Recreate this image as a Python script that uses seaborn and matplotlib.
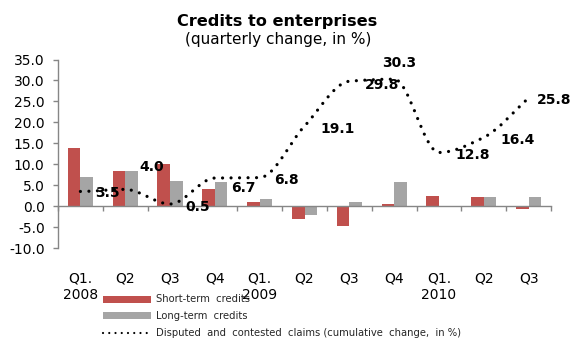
import numpy as np
import pandas as pd
import matplotlib
matplotlib.use("Agg")
import matplotlib.pyplot as plt
from matplotlib.path import Path
from matplotlib.patches import PathPatch, Patch
from matplotlib.lines import Line2D
import seaborn as sns

# ---- data -------------------------------------------------------------
quarters = ["2008Q1", "2008Q2", "2008Q3", "2008Q4",
            "2009Q1", "2009Q2", "2009Q3", "2009Q4",
            "2010Q1", "2010Q2", "2010Q3"]
tick_labels = ["Q1.\n2008", "Q2", "Q3", "Q4",
               "Q1.\n2009", "Q2", "Q3", "Q4",
               "Q1.\n2010", "Q2", "Q3"]
short_term = [13.8, 8.5, 10.1, 4.2, 1.1, -3.0, -4.7, 0.4, 2.4, 2.1, -0.7]
long_term = [7.0, 8.5, 6.1, 5.8, 1.7, -2.2, 1.0, 5.8, 0.1, 2.1, 2.1]
disputed = [3.5, 4.0, 0.5, 6.7, 6.8, 19.1, 29.8, 30.3, 12.8, 16.4, 25.8]

series_names = ["Short-term  credits", "Long-term  credits"]
line_name = "Disputed  and  contested  claims (cumulative  change,  in %)"

# label placement for the line values (pixel offsets from each point)
label_offsets = [(27, -2), (26, 22), (28, -3), (29, -10), (27, -2), (33, -3),
                 (33, -4), (5, 16), (34, -3), (34, -3), (26, -2)]

RED = "#C0504D"
GREY = "#A5A5A5"
AXIS = "#868686"

sns.set_theme(style="white")
plt.rcParams["font.family"] = ["DejaVu Sans"]

df = pd.DataFrame({
    "quarter": quarters * 2,
    "value": short_term + long_term,
    "series": [series_names[0]] * len(quarters) + [series_names[1]] * len(quarters),
})

fig = plt.figure(figsize=(5.71, 3.45), dpi=100)
ax = fig.add_axes([58 / 571, 1 - 248 / 345, (551 - 58) / 571, (248 - 59.5) / 345])

sns.barplot(data=df, x="quarter", y="value", hue="series", order=quarters,
            hue_order=series_names, palette=[RED, GREY], width=0.56, gap=0,
            saturation=1, errorbar=None, ax=ax, legend=False, linewidth=0)


def smooth_path(values):
    """Cubic Bezier path through the points, with monotone tangents."""
    y = np.asarray(values, dtype=float)
    n = len(y)
    x = np.arange(n, dtype=float)
    d = np.diff(y)
    m = np.zeros(n)
    for i in range(1, n - 1):
        if d[i - 1] * d[i] > 0:
            m[i] = 2.0 / (1.0 / d[i - 1] + 1.0 / d[i])
    m[0] = d[0] if d[0] * (d[1] if n > 2 else d[0]) > 0 else 0.0
    m[-1] = d[-1] if n > 2 and d[-1] * d[-2] > 0 else 0.0
    verts = [(x[0], y[0])]
    codes = [Path.MOVETO]
    for i in range(n - 1):
        verts += [(x[i] + 1 / 3, y[i] + m[i] / 3),
                  (x[i + 1] - 1 / 3, y[i + 1] - m[i + 1] / 3),
                  (x[i + 1], y[i + 1])]
        codes += [Path.CURVE4] * 3
    return Path(verts, codes)


curve = PathPatch(smooth_path(disputed), facecolor="none", edgecolor="black",
                  linewidth=2.3, linestyle=(0, (0.01, 2.65)), zorder=4)
curve.set_capstyle("round")
ax.add_patch(curve)

for x, v, (dx, dy) in zip(range(len(disputed)), disputed, label_offsets):
    ax.annotate(f"{v:.1f}", (x, v), xytext=(dx, dy), textcoords="offset pixels",
                ha="center", va="center", fontsize=10, fontweight="bold",
                color="black", zorder=5)

# axes styling
ax.set_xlim(-0.5, len(quarters) - 0.5)
ax.set_ylim(-10, 35)
ax.set_yticks(np.arange(-10, 35.1, 5))
ax.yaxis.set_major_formatter(matplotlib.ticker.FormatStrFormatter("%.1f"))
ax.set_xticks(np.arange(len(quarters)))
ax.set_xticklabels(tick_labels)
ax.set_xticks(np.arange(-0.5, len(quarters), 1.0), minor=True)
ax.set_xlabel("")
ax.set_ylabel("")

for side in ["top", "right"]:
    ax.spines[side].set_visible(False)
ax.spines["left"].set_color(AXIS)
ax.spines["left"].set_linewidth(1.0)
ax.spines["bottom"].set_position(("data", 0))
ax.spines["bottom"].set_color(AXIS)
ax.spines["bottom"].set_linewidth(1.0)
ax.spines["bottom"].set_zorder(3)

ax.tick_params(axis="y", which="major", direction="out", length=3.6, width=1,
               color=AXIS, labelsize=10, labelcolor="black", pad=6, left=True)
ax.tick_params(axis="x", which="major", length=0, labelsize=10,
               labelcolor="black", pad=47)
ax.tick_params(axis="x", which="minor", direction="out", length=3.6, width=1,
               color=AXIS, bottom=True)
ax.grid(False)

fig.text(277 / 571, 1 - 26 / 345, "Credits to enterprises", ha="center",
         va="baseline", fontsize=11.6, fontweight="bold", color="black")
fig.text(278 / 571, 1 - 44 / 345, "(quarterly change, in %)", ha="center",
         va="baseline", fontsize=11, color="black")

handles = [Patch(facecolor=RED, edgecolor="none"),
           Patch(facecolor=GREY, edgecolor="none"),
           Line2D([0], [0], color="black", linewidth=1.6,
                  linestyle=(0, (0.01, 2.8)), dash_capstyle="round")]
fig.legend(handles, series_names + [line_name], loc="upper left",
           bbox_to_anchor=(103 / 571, 1 - 294.5 / 345), frameon=False,
           fontsize=7.2, handlelength=4.8, handleheight=0.7,
           handletextpad=0.5, labelspacing=0.68, borderpad=0,
           borderaxespad=0)

fig.savefig("out.png", dpi=100)
